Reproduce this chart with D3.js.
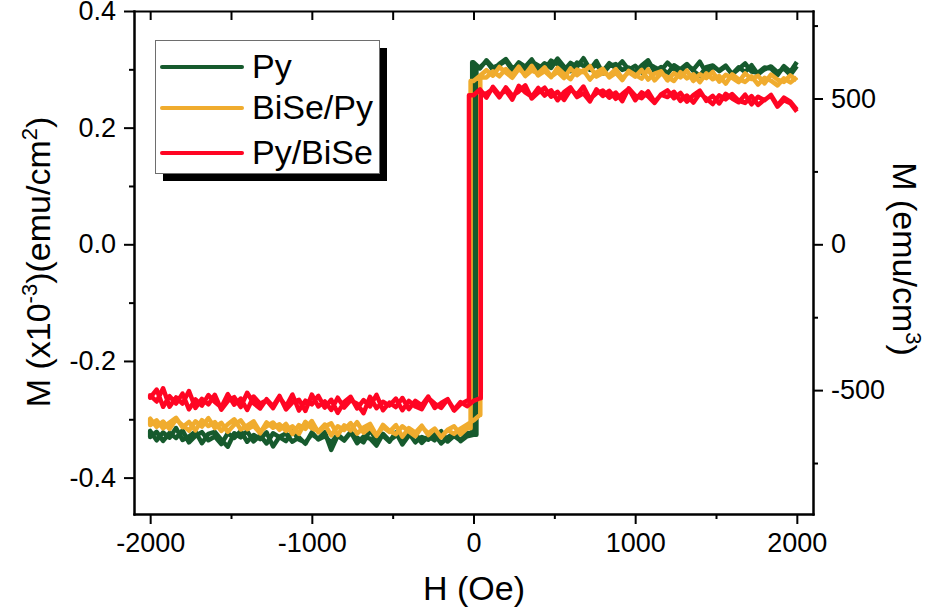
<!DOCTYPE html>
<html><head><meta charset="utf-8">
<script src="https://cdn.jsdelivr.net/npm/d3@7"></script>
<style>body{margin:0;background:#fff}svg{display:block}text{font-family:"Liberation Sans",Arial,sans-serif;fill:#000}</style>
</head><body><svg id="c" width="935" height="613"></svg>
<script>
// Field sweep (Oe)
const fieldOe = [
-2000,-1960,-1920,-1880,-1840,-1800,-1760,-1720,-1680,-1640,
-1600,-1560,-1520,-1480,-1440,-1400,-1360,-1320,-1280,-1240,
-1200,-1160,-1120,-1080,-1040,-1000,-960,-920,-880,-840,
-800,-760,-720,-680,-640,-600,-560,-520,-480,-440,
-400,-360,-320,-280,-240,-200,-160,-120,-80,-40,
0,40,80,120,160,200,240,280,320,360,
400,440,480,520,560,600,640,680,720,760,
800,840,880,920,960,1000,1040,1080,1120,1160,
1200,1240,1280,1320,1360,1400,1440,1480,1520,1560,
1600,1640,1680,1720,1760,1800,1840,1880,1920,1960,
2000];

const seriesNames = ["Py", "BiSe/Py", "Py/BiSe"];
const seriesColors = ["#165a2d", "#f0ac2e", "#ff0523"];
const coerciveDown = [-8, -18, -28];   // Oe, descending-branch switching field
const coerciveUp = [18, 42, 45];       // Oe, ascending-branch switching field

// M (emu/cm^3) on the field grid; descending and ascending branches
const pyDesc = [
-640,-672,-645,-663,-630,-671,-659,-642,-682,-650,
-643,-670,-694,-648,-662,-641,-676,-655,-683,-648,
-661,-675,-640,-669,-680,-651,-667,-644,-705,-656,
-673,-646,-663,-679,-637,-671,-656,-677,-645,-686,
-655,-648,-681,-658,-672,-641,-676,-657,-673,-647,
624,603,631,606,615,629,596,624,609,634,
600,621,605,637,609,594,623,612,598,628,
586,611,618,598,606,590,613,631,592,608,
585,614,600,618,594,578,607,613,594,610,
583,601,620,592,588,606,603,580,611,592,
625];
const pyAsc = [
-661,-643,-674,-647,-664,-638,-679,-657,-644,-672,
-659,-685,-648,-664,-640,-677,-654,-668,-645,-693,
-660,-649,-677,-662,-684,-645,-669,-658,-680,-652,
-671,-643,-682,-659,-666,-690,-650,-673,-656,-664,
-647,-679,-661,-670,-652,-683,-662,-648,-675,-658,
-653,
607,628,598,619,635,604,616,592,626,613,
600,630,617,596,622,608,638,601,615,593,
621,604,627,598,612,589,619,607,596,623,
601,590,615,599,626,587,608,597,613,584,
607,591,614,583,600,610,590,603,581,611];
const biSePyDesc = [
-598,-626,-608,-633,-601,-620,-639,-607,-625,-596,
-630,-612,-643,-619,-604,-634,-622,-648,-611,-629,
-617,-640,-624,-650,-609,-631,-641,-618,-655,-624,
-637,-613,-649,-628,-616,-655,-627,-643,-620,-660,
-630,-646,-622,-654,-633,-661,-636,-624,-652,-631,
560,578,
597,578,608,589,571,601,583,612,579,
594,573,605,584,566,599,590,611,575,587,
580,601,569,590,575,598,565,585,593,562,
587,572,596,560,583,570,591,558,581,571,
556,586,567,578,552,582,565,557,579,563];
const biSePyAsc = [
-620,-604,-631,-611,-595,-627,-609,-638,-603,-623,
-610,-640,-617,-600,-635,-622,-607,-643,-624,-611,
-636,-616,-651,-620,-633,-606,-645,-625,-614,-654,
-621,-638,-610,-646,-628,-657,-619,-640,-651,-624,
-642,-658,-626,-648,-632,-662,-637,-650,
-632,-618,-604,-585,
572,
593,576,601,580,609,577,596,586,
607,575,591,570,603,580,597,565,589,602,
572,588,563,595,581,568,600,562,586,574,
560,590,569,583,556,586,566,577,551,583,
566,557,576,548,571,561,545,569,555,572];
const pyBiSeDesc = [
-526,-498,-557,-521,-546,-512,-566,-532,-553,-517,
-541,-559,-514,-550,-529,-568,-522,-547,-535,-562,
-524,-556,-515,-570,-536,-549,-520,-560,-533,-578,
-541,-523,-563,-534,-556,-516,-569,-543,-558,-527,
-565,-537,-552,-522,-561,-544,-531,-570,-548,-536,
511,
531,503,540,512,527,496,543,521,506,536,
510,528,494,522,538,505,518,490,531,509,
526,499,515,533,494,521,507,485,514,528,
501,519,489,512,527,492,509,483,516,500,
487,513,480,506,494,512,476,503,489,462];
const pyBiSeAsc = [
-518,-539,-494,-557,-525,-546,-503,-561,-530,-549,
-516,-567,-538,-524,-558,-509,-545,-563,-531,-555,
-520,-566,-542,-533,-571,-515,-556,-539,-568,-526,
-560,-535,-547,-579,-523,-562,-540,-553,-529,-569,
-537,-556,-565,-527,-546,-561,-532,-567,-541,-555,
-537,-528,
517,
533,504,538,510,524,545,500,520,
537,506,523,495,530,514,541,498,518,527,
503,520,491,535,510,501,524,488,513,505,
523,492,510,486,517,500,481,511,497,515,
493,485,508,478,496,509,472,494,484,455];

const descBranches = [pyDesc, biSePyDesc, pyBiSeDesc];
const ascBranches = [pyAsc, biSePyAsc, pyBiSeAsc];

const xTicks = [-2000, -1000, 0, 1000, 2000];
const xMinorTicks = [-1500, -500, 500, 1500];
const topTicks = [-2000, -1500, -1000, -500, 0, 500, 1000, 1500, 2000];
const leftTicks = [-0.4, -0.2, 0, 0.2, 0.4];
const leftMinorTicks = [-0.3, -0.1, 0.1, 0.3];
const rightTicks = [-500, 0, 500];
const rightMinorTicks = [-750, -250, 250, 750];

const svg = d3.select("#c");
const L = 134, R = 813, T = 11, B = 514;
const x = d3.scaleLinear().domain([-2100, 2100]).range([L, R]);
const yL = d3.scaleLinear().domain([-0.4624, 0.4]).range([B, T]);
const yR = d3.scaleLinear().domain([-924.8, 800]).range([B, T]);

function styleAxis(g) {
  g.selectAll("path.domain").attr("stroke", "#000").attr("stroke-width", 2).attr("stroke-linecap", "square");
  g.selectAll(".tick line").attr("stroke", "#000").attr("stroke-width", 2);
  g.selectAll(".tick text").attr("font-size", 27).attr("font-family", "Liberation Sans, Arial, sans-serif").attr("fill", "#000");
}

// minor ticks first
svg.append("g").attr("transform", `translate(0,${B})`)
  .call(d3.axisBottom(x).tickValues(xMinorTicks).tickSize(5).tickSizeOuter(0).tickFormat(""))
  .call(styleAxis);
svg.append("g").attr("transform", `translate(${L},0)`)
  .call(d3.axisLeft(yL).tickValues(leftMinorTicks).tickSize(5).tickSizeOuter(0).tickFormat(""))
  .call(styleAxis);
svg.append("g").attr("transform", `translate(${R},0)`)
  .call(d3.axisRight(yR).tickValues(rightMinorTicks).tickSize(5).tickSizeOuter(0).tickFormat(""))
  .call(styleAxis);

// major axes
svg.append("g").attr("transform", `translate(0,${B})`)
  .call(d3.axisBottom(x).tickValues(xTicks).tickSize(10).tickSizeOuter(0).tickPadding(9).tickFormat(d => String(d)))
  .call(styleAxis);
svg.append("g").attr("transform", `translate(0,${T})`)
  .call(d3.axisTop(x).tickValues(topTicks).tickSize(-9).tickSizeOuter(0).tickFormat(""))
  .call(styleAxis);
svg.append("g").attr("transform", `translate(${L},0)`)
  .call(d3.axisLeft(yL).tickValues(leftTicks).tickSize(10).tickSizeOuter(0).tickPadding(8).tickFormat(d => d.toFixed(1)))
  .call(styleAxis);
svg.append("g").attr("transform", `translate(${R},0)`)
  .call(d3.axisRight(yR).tickValues(rightTicks).tickSize(10).tickSizeOuter(0).tickPadding(8).tickFormat(d => String(d)))
  .call(styleAxis);

// data
function loopPoints(H, desc, asc, hcD, hcU) {
  const pts = [];
  for (let i = H.length - 1; i >= 0; i--) {
    pts.push([H[i], desc[i]]);
    if (i > 0 && H[i] >= hcD && H[i - 1] < hcD) { pts.push([hcD, desc[i]]); pts.push([hcD, desc[i - 1]]); }
  }
  for (let i = 0; i < H.length; i++) {
    pts.push([H[i], asc[i]]);
    if (i < H.length - 1 && H[i] <= hcU && H[i + 1] > hcU) { pts.push([hcU, asc[i]]); pts.push([hcU, asc[i + 1]]); }
  }
  return pts;
}
const line = d3.line().x(d => x(d[0])).y(d => yR(d[1]));
seriesNames.forEach((name, k) => {
  svg.append("path")
    .datum(loopPoints(fieldOe, descBranches[k], ascBranches[k], coerciveDown[k], coerciveUp[k]))
    .attr("d", line).attr("fill", "none").attr("stroke", seriesColors[k])
    .attr("stroke-width", 4.5).attr("stroke-linejoin", "round");
});

// titles
svg.append("text").attr("x", 474).attr("y", 600).attr("text-anchor", "middle").attr("font-size", 34).text("H (Oe)");
const lt = svg.append("text").attr("transform", "translate(50,262) rotate(-90)").attr("text-anchor", "middle").attr("font-size", 34);
lt.append("tspan").text("M (x10");
lt.append("tspan").attr("dy", -13).attr("font-size", 22).text("-3");
lt.append("tspan").attr("dy", 13).text(")(emu/cm");
lt.append("tspan").attr("dy", -13).attr("font-size", 22).text("2");
lt.append("tspan").attr("dy", 13).text(")");
const rt = svg.append("text").attr("transform", "translate(893,259) rotate(90)").attr("text-anchor", "middle").attr("font-size", 34);
rt.append("tspan").text("M (emu/cm");
rt.append("tspan").attr("dy", -13).attr("font-size", 22).text("3");
rt.append("tspan").attr("dy", 13).text(")");

// legend
const lg = svg.append("g");
lg.append("rect").attr("x", 163).attr("y", 48).attr("width", 224).attr("height", 133).attr("fill", "#000");
lg.append("rect").attr("x", 155.5).attr("y", 40.5).attr("width", 224).attr("height", 133).attr("fill", "#fff").attr("stroke", "#6e6e6e").attr("stroke-width", 1);
const legendY = [67, 108, 153];
seriesNames.forEach((name, k) => {
  lg.append("line").attr("x1", 162).attr("x2", 242).attr("y1", legendY[k]).attr("y2", legendY[k])
    .attr("stroke", seriesColors[k]).attr("stroke-width", 4).attr("stroke-linecap", "round");
  lg.append("text").attr("x", 252).attr("y", legendY[k] + 11).attr("font-size", 34).text(name);
});
</script></body></html>
